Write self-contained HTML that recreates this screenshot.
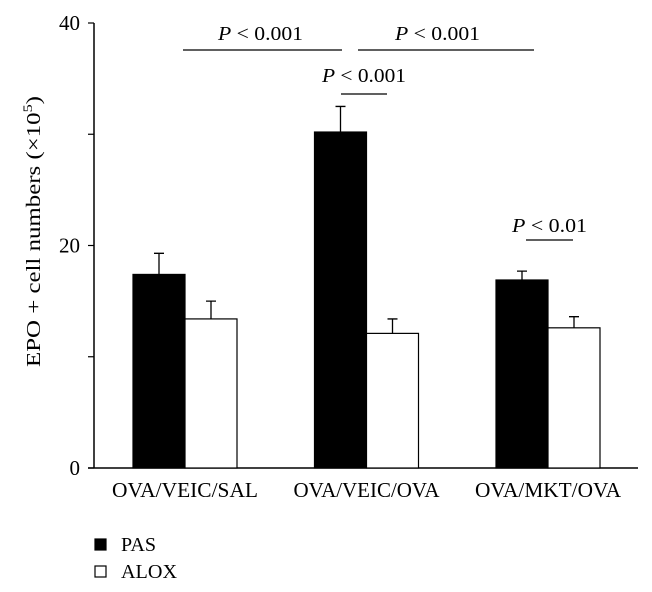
<!DOCTYPE html>
<html><head><meta charset="utf-8"><style>
html,body{margin:0;padding:0;background:#fff;}
svg{display:block;font-family:"Liberation Serif",serif;}
</style></head><body>
<svg id="chart" width="652" height="592"></svg>
<script>
const categories = ["OVA/VEIC/SAL","OVA/VEIC/OVA","OVA/MKT/OVA"];
const pasValues = [17.4, 30.2, 16.9];
const pasErrors = [1.9, 2.3, 0.8];
const aloxValues = [13.4, 12.1, 12.6];
const aloxErrors = [1.6, 1.3, 1.0];
const yTicks = [0, 10, 20, 30, 40];
const yTickLabels = ["0", "", "20", "", "40"];
const sigLabels = ["P < 0.001","P < 0.001","P < 0.001","P < 0.01"];

const NS = "http://www.w3.org/2000/svg";
const svg = document.getElementById("chart");
const X0 = 94, Y0 = 468, YTOP = 23, YMAX = 40;
const y = v => Y0 - (v / YMAX) * (Y0 - YTOP);
const groupCenter = i => 185 + i * 181.5;
const barW = 52;
function mk(tag, attrs, parent) {
  const e = document.createElementNS(NS, tag);
  for (const k in attrs) e.setAttribute(k, attrs[k]);
  (parent || svg).appendChild(e);
  return e;
}
let ax = mk("line", {x1: X0, y1: YTOP, x2: X0, y2: Y0, stroke: "#000", "stroke-width": 1.5});


let axx = mk("line", {x1: 88, y1: Y0, x2: 638, y2: Y0, stroke: "#000", "stroke-width": 1.5});


yTicks.forEach((t, i) => {
  const tk = mk("line", {x1: 88, y1: y(t), x2: X0, y2: y(t), stroke: "#000", "stroke-width": 1.2});
  
  
  if (yTickLabels[i]) {
    const tl = mk("text", {x: 80, y: y(t) + 7, "text-anchor": "end", "font-size": 21});
    tl.textContent = yTickLabels[i];
    
    
  }
});
const yt = mk("text", {x: -135, y: 0, "font-size": 20, textLength: 271, lengthAdjust: "spacingAndGlyphs", transform: "translate(40,232) rotate(-90)"});
yt.innerHTML = 'EPO + cell numbers (×10<tspan dy="-8" font-size="13">5</tspan><tspan dy="8">)</tspan>';



function bar(x, v, err, fill, name) {
  const r = mk("rect", {x: x, y: y(v), width: barW, height: Y0 - y(v), fill: fill, stroke: "#000", "stroke-width": 1.2});
  
  
  const cx = x + barW / 2;
  const e = mk("path", {d: `M${cx},${y(v)}V${y(v + err)}M${cx - 5},${y(v + err)}H${cx + 5}`, stroke: "#000", "stroke-width": 1.3, fill: "none"});
  
  
}
categories.forEach((c, i) => {
  const gc = groupCenter(i);
  bar(gc - barW, pasValues[i], pasErrors[i], "#000", "bar-pas-" + (i + 1));
  bar(gc, aloxValues[i], aloxErrors[i], "#fff", "bar-alox-" + (i + 1));
  const t = mk("text", {x: gc - 73, y: 497, "font-size": 21, textLength: 146, lengthAdjust: "spacingAndGlyphs"});
  t.textContent = c;
  
  
});
const sigLines = [[183, 342, 50, 218, 40, 85], [358, 534, 50, 395, 40, 85], [341, 387, 94, 322, 82, 84], [526, 573, 240, 512, 232, 75]];
sigLines.forEach((s, i) => {
  const l = mk("line", {x1: s[0], y1: s[2], x2: s[1], y2: s[2], stroke: "#000", "stroke-width": 1.3});
  
  
  const t = mk("text", {x: s[3], y: s[4], "font-size": 20, textLength: s[5], lengthAdjust: "spacingAndGlyphs"});
  const parts = sigLabels[i].split(" ");
  t.innerHTML = '<tspan font-style="italic">' + parts[0] + '</tspan> ' + parts.slice(1).join(" ");
  
  
});
const legend = [["PAS", "#000", 539, 35], ["ALOX", "#fff", 566, 56]];
legend.forEach(l => {
  const r = mk("rect", {x: 95, y: l[2], width: 11, height: 11, fill: l[1], stroke: "#000", "stroke-width": 1.2});
  
  
  const t = mk("text", {x: 121, y: l[2] + 12, "font-size": 20, textLength: l[3], lengthAdjust: "spacingAndGlyphs"});
  t.textContent = l[0];
  
  
});
</script>
</body></html>
